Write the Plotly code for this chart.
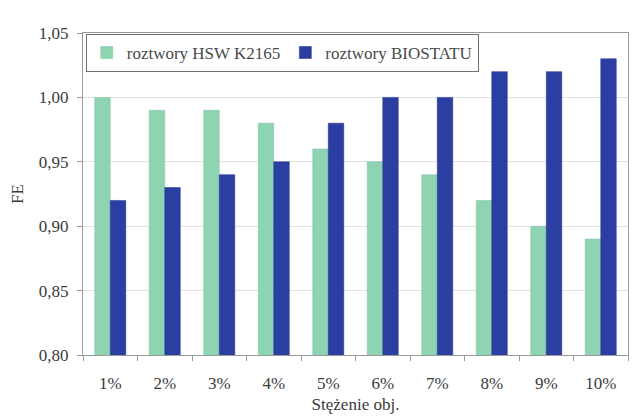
import plotly.graph_objects as go

# Stężenie objętościowe roztworu
categories = ["1%", "2%", "3%", "4%", "5%", "6%", "7%", "8%", "9%", "10%"]
hsw_k2165 = [1.00, 0.99, 0.99, 0.98, 0.96, 0.95, 0.94, 0.92, 0.90, 0.89]
biostat = [0.92, 0.93, 0.94, 0.95, 0.98, 1.00, 1.00, 1.02, 1.02, 1.03]
y_ticks = [0.80, 0.85, 0.90, 0.95, 1.00, 1.05]

serif = "'Liberation Serif', 'Times New Roman', serif"

fig = go.Figure()
fig.add_trace(go.Bar(
    x=categories, y=hsw_k2165, name="roztwory HSW K2165",
    marker=dict(color="#8fd4b2", line=dict(color="#7cc4a0", width=0.5)),
))
fig.add_trace(go.Bar(
    x=categories, y=biostat, name="roztwory BIOSTATU",
    marker=dict(color="#2b3fa3", line=dict(color="#22318a", width=0.5)),
))

fig.update_layout(
    width=634, height=418,
    margin=dict(l=83, r=6, t=33, b=63),
    paper_bgcolor="white", plot_bgcolor="white",
    barmode="group", bargap=0.43, bargroupgap=0.0,
    separators=",.",
    font=dict(family=serif, size=17, color="#3a3a3a"),
    legend=dict(
        orientation="h", x=0.005, y=0.997, xanchor="left", yanchor="top",
        bgcolor="white", bordercolor="#707070", borderwidth=1,
        font=dict(family=serif, size=17, color="#4a4a4a"),
        itemwidth=30, tracegroupgap=0,
    ),
    xaxis=dict(
        title=dict(text="Stężenie obj.", font=dict(size=17), standoff=5),
        showline=True, linecolor="#9a9a9a", mirror=True,
        ticks="outside", tickson="boundaries", ticklen=5, tickcolor="#9a9a9a",
        ticklabelstandoff=13,
        tickfont=dict(size=17),
    ),
    yaxis=dict(
        title=dict(text="FE", font=dict(size=17), standoff=10),
        range=[0.80, 1.05], tickvals=y_ticks, tickformat=".2f",
        showgrid=True, gridcolor="#e2e2e2", gridwidth=1,
        showline=True, linecolor="#9a9a9a", mirror=True,
        ticks="outside", ticklen=5, tickcolor="#9a9a9a",
        ticklabelstandoff=5,
        tickfont=dict(size=17), zeroline=False,
    ),
)

fig.write_html("out.html")
